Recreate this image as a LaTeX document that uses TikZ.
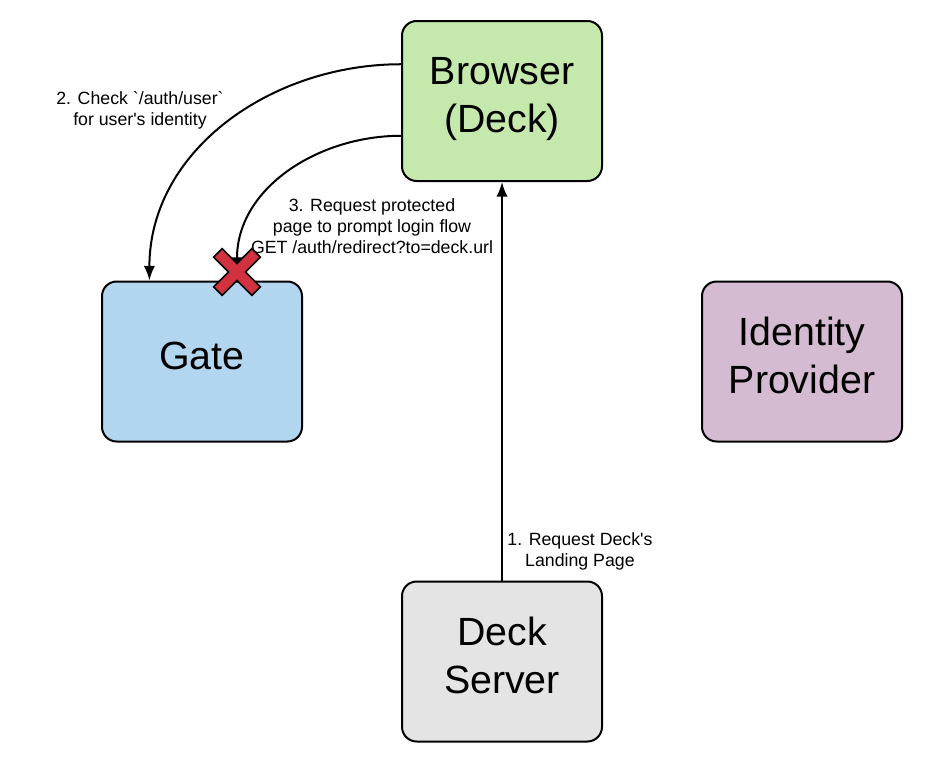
\documentclass[tikz,border=0pt]{standalone}
\usepackage{fontspec}
\setmainfont{Liberation Sans}[Ligatures=TeXOff]
\usetikzlibrary{arrows.meta}
\definecolor{browsergreen}{RGB}{197,232,172}
\definecolor{gateblue}{RGB}{178,214,239}
\definecolor{idppurple}{RGB}{213,187,210}
\definecolor{deckgrey}{RGB}{228,228,228}
\definecolor{stopred}{RGB}{210,50,64}

\begin{document}
\begin{tikzpicture}[x=0.75pt,y=-0.75pt,>={Latex[length=11pt,width=8.5pt]},line width=1.5pt]
\tikzstyle{box} = [rectangle, rounded corners=11pt, draw=black, line width=1.5pt, minimum width=150pt, minimum height=120pt, align=center, text depth=9pt, font=\fontsize{29.5}{36}\selectfont]
\tikzstyle{arrow} = [line width=1.5pt,->]
\tikzstyle{note} = [align=center, font=\fontsize{13.3}{15.75}\selectfont]
\tikzstyle{xmark} = [fill=stopred, draw=black, line width=1.2pt, line join=miter]

\useasboundingbox (0,0) rectangle (942,782);

\node (browser) at (502,101) [box, fill=browsergreen] {Browser\\(Deck)};
\node (gate) at (202,361.5) [box, fill=gateblue] {Gate};
\node (idp) at (802,361.5) [box, fill=idppurple] {Identity\\Provider};
\node (deck) at (502,661.5) [box, fill=deckgrey] {Deck\\Server};
\coordinate (stop) at (237,272);

\draw[arrow] (deck) -- node[note, right, pos=0.073] {1. Request Deck's\\Landing Page} (browser);
\draw[arrow] (browser.160) to[out=180,in=90] (gate.123);
\draw[arrow] (browser.199) to[out=180,in=90] (stop);

\node (checklbl) at (140,110) [note] {2. Check `/auth/user`\\for user's identity};
\node (requestlbl) at (372,226) [note] {3. Request protected\\page to prompt login flow\\GET /auth/redirect?to=deck.url};

% request is blocked at the gate
\draw[xmark, shift={(stop)}, rotate=45] (6,6) -- (27,6) -- (27,-6) -- (6,-6) -- (6,-27) -- (-6,-27) -- (-6,-6) -- (-27,-6) -- (-27,6) -- (-6,6) -- (-6,27) -- (6,27) -- cycle;

\end{tikzpicture}
\end{document}
